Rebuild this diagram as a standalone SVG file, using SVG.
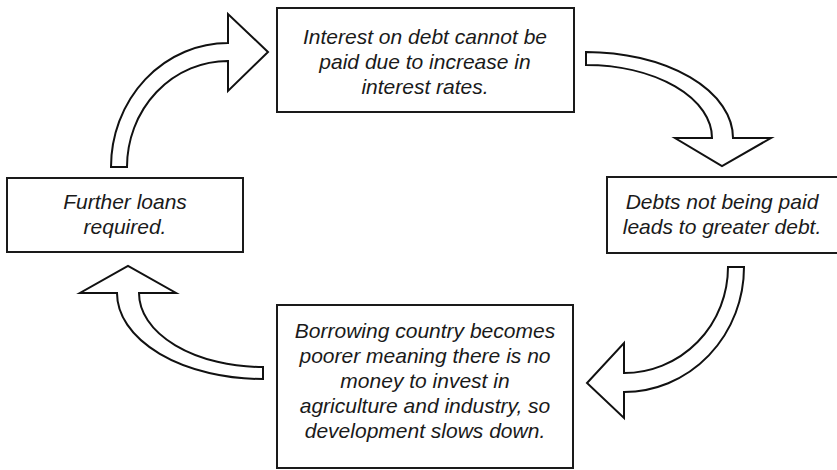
<svg xmlns="http://www.w3.org/2000/svg" width="837" height="470" viewBox="0 0 837 470">
  <style>
    .box { fill: #ffffff; stroke: #1a1a1a; stroke-width: 2; }
    .arrow { fill: #ffffff; stroke: #111111; stroke-width: 2; stroke-linejoin: miter; }
    .label { font-family: "Liberation Sans", Arial, sans-serif; font-style: italic; font-size: 21px; fill: #1a1a1a; text-anchor: middle; }
  </style>
  <rect width="837" height="470" fill="#ffffff"/>

  <!-- curved block arrows between the stages -->
  <g id="connectors">
    <path class="arrow" d="M111,167 A117,124 0 0 1 228,43 L228,14 L268,52 L228,91 L228,61 A101,106 0 0 0 127,167 Z"/>
    <path class="arrow" d="M586,52 A147,86 0 0 1 733,138 L771,138 L722,166 L675,138 L712,138 A126,73 0 0 0 586,65 Z"/>
    <path class="arrow" d="M744,267 A120,125 0 0 1 624,392 L624,418 L587,383 L624,343 L624,373 A104,106 0 0 0 728,267 Z"/>
    <path class="arrow" d="M263,379 A146,86 0 0 1 117,293 L80,293 L128,266 L176,293 L139,293 A124,74 0 0 0 263,367 Z"/>
  </g>

  <g id="interest">
    <rect class="box" x="277" y="8" width="297" height="104"/>
    <text class="label" x="425" y="44">Interest on debt cannot be</text>
    <text class="label" x="425" y="69">paid due to increase in</text>
    <text class="label" x="425" y="94">interest rates.</text>
  </g>

  <g id="debts">
    <rect class="box" x="607" y="177" width="240" height="76"/>
    <text class="label" x="722" y="209">Debts not being paid</text>
    <text class="label" x="722" y="234">leads to greater debt.</text>
  </g>

  <g id="poorer">
    <rect class="box" x="277" y="305" width="296" height="163"/>
    <text class="label" x="425" y="338">Borrowing country becomes</text>
    <text class="label" x="425" y="363">poorer meaning there is no</text>
    <text class="label" x="425" y="388">money to invest in</text>
    <text class="label" x="425" y="413">agriculture and industry, so</text>
    <text class="label" x="425" y="438">development slows down.</text>
  </g>

  <g id="loans">
    <rect class="box" x="7" y="178" width="236" height="74"/>
    <text class="label" x="125" y="209">Further loans</text>
    <text class="label" x="125" y="234">required.</text>
  </g>
</svg>
